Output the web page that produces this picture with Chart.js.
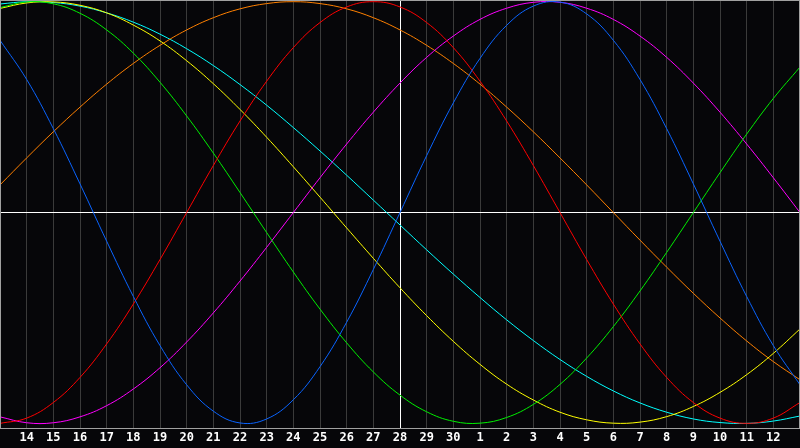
<!DOCTYPE html>
<html><head><meta charset="utf-8">
<script src="https://cdn.jsdelivr.net/npm/chart.js@4/dist/chart.umd.min.js"></script>
<style>html,body{margin:0;padding:0;background:#060609;overflow:hidden}</style>
</head><body>
<canvas id="c" width="800" height="448"></canvas>
<script>
// day labels along the x axis (index 0 .. 30), first and last are not printed
const dayLabels = ['13','14','15','16','17','18','19','20','21','22','23','24','25','26','27','28','29','30','1','2','3','4','5','6','7','8','9','10','11','12','13'];
const dayIndex = [0,1,2,3,4,5,6,7,8,9,10,11,12,13,14,15,16,17,18,19,20,21,22,23,24,25,26,27,28,29,30];
const todayIndex = 15;

// values, -1 .. 1, one per day gridline
const physical = [0.817,0.631,0.398,0.136,-0.136,-0.398,-0.631,-0.817,-0.942,-0.998,-0.979,-0.888,-0.731,-0.520,-0.270,0,0.270,0.520,0.731,0.888,0.979,0.998,0.942,0.817,0.631,0.398,0.136,-0.136,-0.398,-0.631,-0.817];
const emotional = [-1.000,-0.975,-0.901,-0.782,-0.623,-0.434,-0.223,0,0.223,0.434,0.623,0.782,0.901,0.975,1.000,0.975,0.901,0.782,0.623,0.434,0.223,0,-0.223,-0.434,-0.623,-0.782,-0.901,-0.975,-1.000,-0.975,-0.901];
const intellectual = [0.972,0.999,0.990,0.945,0.866,0.756,0.618,0.458,0.282,0.095,-0.095,-0.282,-0.458,-0.618,-0.756,-0.866,-0.945,-0.990,-0.999,-0.972,-0.910,-0.815,-0.690,-0.541,-0.372,-0.189,0,0.189,0.372,0.541,0.690];
const intuitive = [-0.969,-0.997,-0.997,-0.969,-0.916,-0.837,-0.736,-0.614,-0.476,-0.325,-0.165,0,0.165,0.325,0.476,0.614,0.736,0.837,0.916,0.969,0.997,0.997,0.969,0.916,0.837,0.736,0.614,0.476,0.325,0.165,0];
const aesthetic = [0.968,0.994,0.999,0.983,0.947,0.889,0.814,0.720,0.611,0.489,0.357,0.217,0.073,-0.073,-0.217,-0.357,-0.489,-0.611,-0.720,-0.814,-0.889,-0.947,-0.983,-0.999,-0.994,-0.968,-0.920,-0.853,-0.769,-0.668,-0.552];
const awareness = [0.131,0.259,0.383,0.500,0.609,0.707,0.793,0.866,0.924,0.966,0.991,1.000,0.991,0.966,0.924,0.866,0.793,0.707,0.609,0.500,0.383,0.259,0.131,0,-0.131,-0.259,-0.383,-0.500,-0.609,-0.707,-0.793];
const spiritual = [0.989,1.000,0.996,0.979,0.947,0.903,0.846,0.777,0.697,0.607,0.509,0.403,0.292,0.177,0.059,-0.059,-0.177,-0.292,-0.403,-0.509,-0.607,-0.697,-0.777,-0.846,-0.903,-0.947,-0.979,-0.996,-1.000,-0.989,-0.965];

const seriesNames = ['Physical','Emotional','Intellectual','Intuitive','Aesthetic','Awareness','Spiritual'];
const seriesValues = [physical, emotional, intellectual, intuitive, aesthetic, awareness, spiritual];
const seriesColors = ['#0a64ff','#ff0000','#00f000','#ff00ff','#ffff00','#ff8000','#00ffff'];

const toPoints = vals => dayIndex.map((d, i) => ({x: d, y: vals[i]}));

const bgPlugin = {
  id: 'bg',
  beforeDraw(chart) {
    const ctx = chart.ctx;
    ctx.save();
    ctx.fillStyle = '#060609';
    ctx.fillRect(0, 0, chart.width, chart.height);
    ctx.restore();
  }
};
const framePlugin = {
  id: 'frame',
  afterDatasetsDraw(chart) {
    const a = chart.chartArea, ctx = chart.ctx;
    ctx.save();
    ctx.strokeStyle = '#a0a0a0';
    ctx.lineWidth = 1;
    ctx.strokeRect(Math.round(a.left) + 0.5, Math.round(a.top) + 0.5, Math.round(a.right - a.left) - 1, Math.round(a.bottom - a.top));
    ctx.restore();
  }
};

new Chart(document.getElementById('c'), {
  type: 'line',
  data: {
    datasets: seriesNames.map((n, i) => ({
      label: n,
      data: toPoints(seriesValues[i]),
      borderColor: seriesColors[i],
      borderWidth: 1,
      pointRadius: 0,
      pointHoverRadius: 0,
      tension: 0.4,
      fill: false
    }))
  },
  options: {
    responsive: false,
    animation: false,
    layout: {padding: 0, autoPadding: false},
    plugins: {legend: {display: false}, tooltip: {enabled: false}},
    scales: {
      x: {
        type: 'linear',
        min: 0, max: 30,
        border: {display: false},
        afterFit: s => { s.paddingLeft = 0; s.paddingRight = 0; },
        grid: {
          drawTicks: false,
          lineWidth: 1,
          color: ctx => ctx.tick && ctx.tick.value === todayIndex ? '#ffffff' :
                        (ctx.tick && (ctx.tick.value === 0 || ctx.tick.value === 30) ? 'rgba(0,0,0,0)' : '#3a3a3a')
        },
        ticks: {
          stepSize: 1,
          autoSkip: false,
          maxRotation: 0,
          padding: 3,
          color: '#ffffff',
          font: {family: 'DejaVu Sans Mono', size: 12, weight: 'bold'},
          callback: v => (v === 0 || v === 30) ? '' : dayLabels[v]
        }
      },
      y: {
        min: -1.02, max: 1.008,
        border: {display: false},
        afterBuildTicks: s => { s.ticks = [{value: 0}]; },
        grid: {drawTicks: false, color: '#ffffff', lineWidth: 1},
        ticks: {display: false}
      }
    }
  },
  plugins: [bgPlugin, framePlugin]
});
</script>
</body></html>
